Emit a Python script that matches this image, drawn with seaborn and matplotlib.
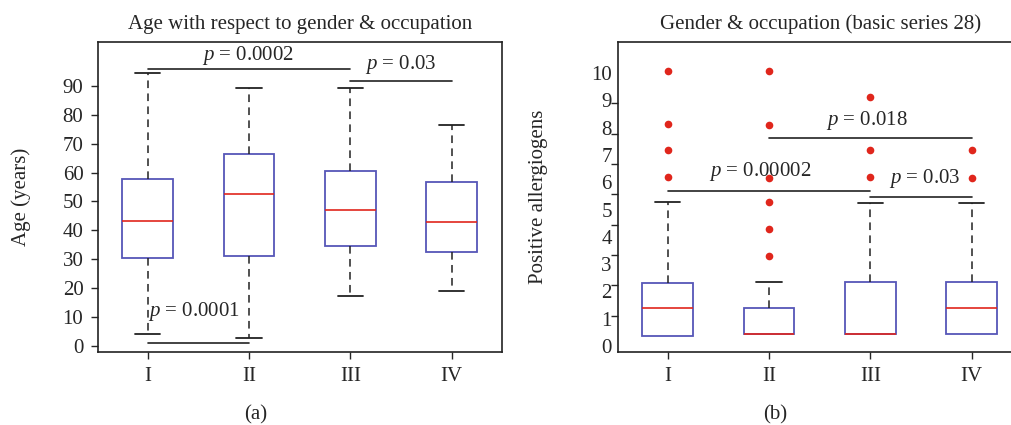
import numpy as np
import pandas as pd
import matplotlib
matplotlib.use("Agg")
import matplotlib.pyplot as plt
import seaborn as sns

# 스타일 / 폰트
sns.set_style("ticks")
plt.rcParams["font.family"] = ["Liberation Serif", "DejaVu Serif"]
plt.rcParams["mathtext.fontset"] = "custom"
plt.rcParams["mathtext.it"] = "Liberation Serif:italic"
plt.rcParams["mathtext.rm"] = "Liberation Serif"

# 데이터
groups = ["I", "II", "III", "IV"]

age_low = [4.3, 2.7, 17.2, 19.1]
age_q1 = [30.6, 31.3, 34.5, 32.5]
age_med = [43.1, 52.7, 46.9, 43.0]
age_q3 = [57.8, 66.4, 60.7, 56.7]
age_high = [94.6, 89.3, 89.3, 76.5]

all_low = [0.37, 0.44, 0.43, 0.44]
all_q1 = [0.37, 0.44, 0.43, 0.44]
all_med = [1.39, 0.45, 0.43, 1.39]
all_q3 = [2.32, 1.38, 2.33, 2.33]
all_high = [5.27, 2.34, 5.23, 5.23]

out_groups = ["I"] * 4 + ["II"] * 6 + ["III"] * 3 + ["IV"] * 2
out_values = [10.09, 8.14, 7.18, 6.21,
              10.09, 8.11, 6.14, 5.26, 4.27, 3.30,
              9.11, 7.18, 6.20,
              7.18, 6.15]

# (group a, group b, line y, text x, text y, label)
age_pvals = [(0, 2, 95.9, 0.99, 100.7, "0.0002"),
             (2, 3, 91.7, 2.50, 97.3, "0.03"),
             (0, 1, 0.9, 0.46, 11.9, "0.0001")]
all_pvals = [(0, 2, 5.68, 0.91, 6.38, "0.00002"),
             (1, 3, 7.61, 1.97, 8.25, "0.018"),
             (2, 3, 5.45, 2.54, 6.12, "0.03")]


def five_number_frame(low, q1, med, q3, high):
    rows = []
    for g, a, b, c, d, e in zip(groups, low, q1, med, q3, high):
        for v in (a, b, c, d, e):
            rows.append({"group": g, "value": v})
    return pd.DataFrame(rows)


BLUE = "#5656b8"
RED = "#e0261c"
FS = 15

box_kws = dict(
    x="group", y="value", order=groups, width=0.5, whis=np.inf,
    color="white", linecolor=BLUE, linewidth=1.3,
    boxprops=dict(edgecolor=BLUE, linewidth=1.3),
    medianprops=dict(color=RED, linewidth=1.2),
    whiskerprops=dict(color="#222222", linestyle=(0, (5, 3.5)), linewidth=1.1),
    capprops=dict(color="#222222", linewidth=1.3),
)

fig = plt.figure(figsize=(10.12, 4.25), dpi=100)
ax1 = fig.add_axes([98 / 1012, 73 / 425, 404.3 / 1012, 310 / 425])
ax2 = fig.add_axes([618 / 1012, 73 / 425, 404.3 / 1012, 310 / 425])

# (a) 나이
sns.boxplot(data=five_number_frame(age_low, age_q1, age_med, age_q3, age_high),
            ax=ax1, **box_kws)
ax1.set_xlim(-0.49, 3.5)
ax1.set_ylim(-2.1, 105.2)
ax1.set_yticks(range(0, 91, 10))
ax1.set_xlabel("")
ax1.set_ylabel("Age (years)", fontsize=FS)
ax1.yaxis.set_label_coords(-0.166, 0.5)
ax1.set_title("Age with respect to gender & occupation", fontsize=FS, pad=9)
ax1.tick_params(axis="y", length=5, width=1, pad=5.5, labelsize=FS)
ax1.tick_params(axis="x", length=5, width=1, pad=6, labelsize=FS)
for x0, x1, yl, tx, ty, lab in age_pvals:
    ax1.plot([x0, x1], [yl, yl], color="#222222", lw=1.2)
    ax1.text(tx, ty, "$p$ = " + lab, ha="center", va="center", fontsize=FS)

# (b) 양성 알레르겐
sns.boxplot(data=five_number_frame(all_low, all_q1, all_med, all_q3, all_high),
            ax=ax2, **box_kws)
# 아래쪽 수염 캡 숨기기 (최소값 = Q1)
for ln in ax2.lines:
    xd, yd = np.asarray(ln.get_xdata(), float), np.asarray(ln.get_ydata(), float)
    if len(yd) == 2 and yd[0] == yd[1] and abs(xd[1] - xd[0]) < 0.3 and yd[0] in all_low:
        ln.set_visible(False)
sns.stripplot(x=out_groups, y=out_values, order=groups, jitter=False,
              color=RED, size=5.5, linewidth=0, ax=ax2, zorder=5)
ax2.set_xlim(-0.49, 3.5)
ax2.set_ylim(-0.22, 11.14)
ax2.set_yticks(range(0, 11))
ax2.set_yticks(np.arange(10) * 10 / 9, minor=True)
ax2.set_xlabel("")
ax2.set_ylabel("Positive allergiogens", fontsize=FS)
ax2.yaxis.set_label_coords(-0.172, 0.5)
ax2.set_title("Gender & occupation (basic series 28)", fontsize=FS, pad=9)
ax2.tick_params(axis="y", which="major", length=0, pad=4.5, labelsize=FS)
ax2.tick_params(axis="y", which="minor", length=5, width=1, left=True)
ax2.tick_params(axis="x", length=5, width=1, pad=6, labelsize=FS)
for x0, x1, yl, tx, ty, lab in all_pvals:
    ax2.plot([x0, x1], [yl, yl], color="#222222", lw=1.2)
    ax2.text(tx, ty, "$p$ = " + lab, ha="center", va="center", fontsize=FS)

for ax in (ax1, ax2):
    for sp in ax.spines.values():
        sp.set_visible(True)
        sp.set_linewidth(1.2)
        sp.set_color("#222222")

fig.text(256 / 1012, 1 - 415 / 425, "(a)", ha="center", va="center", fontsize=FS)
fig.text(775 / 1012, 1 - 415 / 425, "(b)", ha="center", va="center", fontsize=FS)

fig.savefig("out.png", dpi=100)
